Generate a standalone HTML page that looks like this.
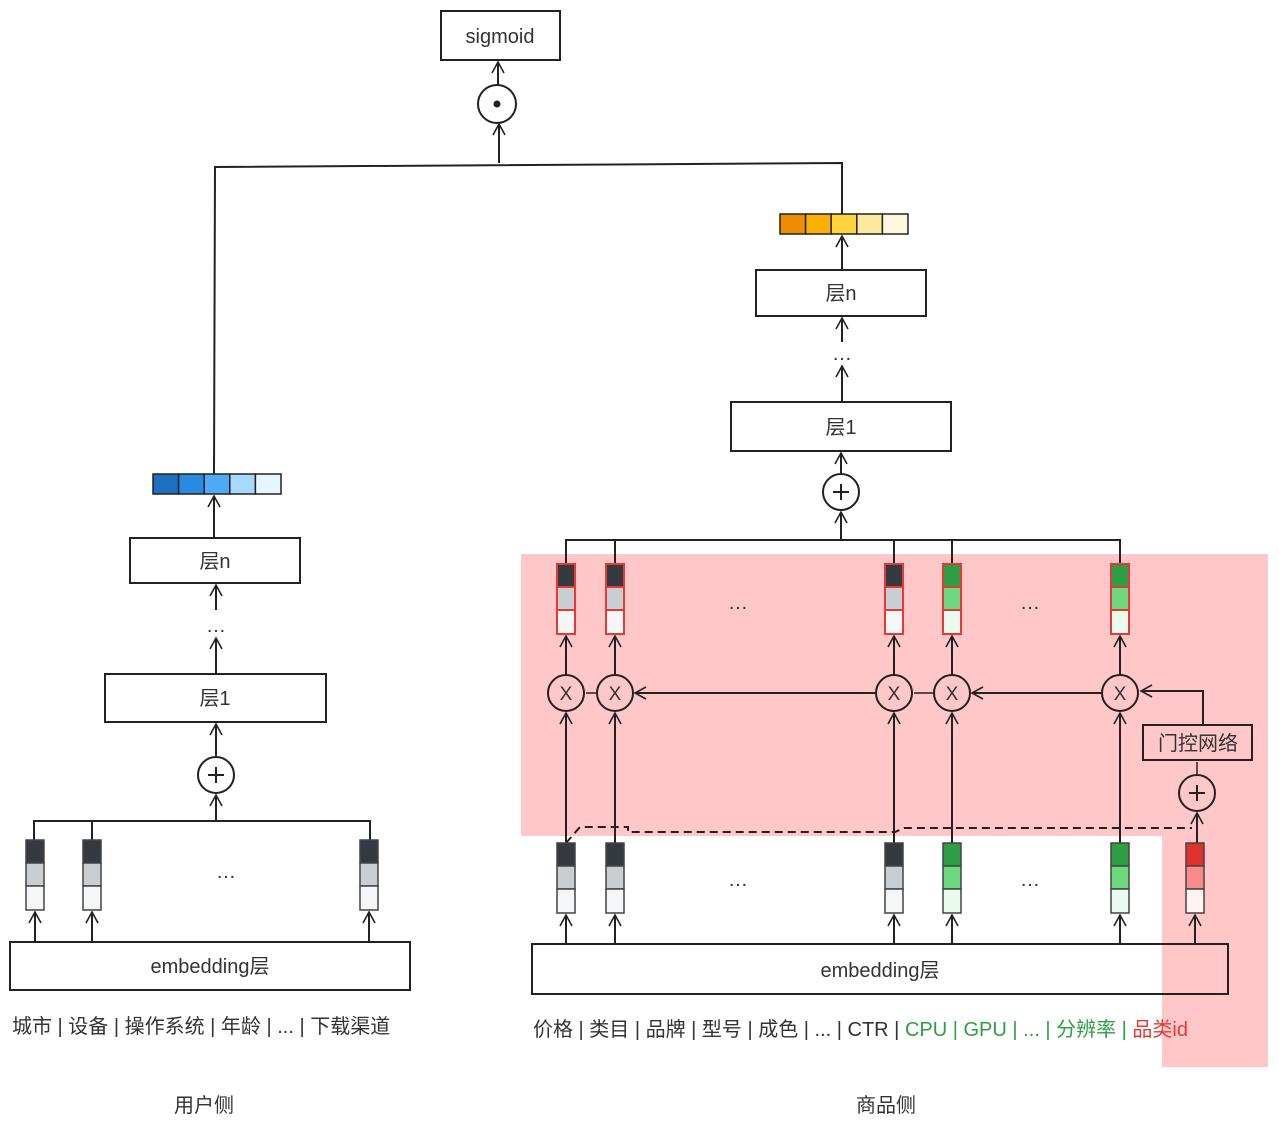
<!DOCTYPE html>
<html><head><meta charset="utf-8"><style>
html,body{margin:0;padding:0;background:#fff;}
svg{display:block;}
text{font-family:"Liberation Sans","Noto Sans CJK SC",sans-serif;fill:#333;}
</style></head><body>
<svg width="1279" height="1127" viewBox="0 0 1279 1127" xmlns="http://www.w3.org/2000/svg">
<defs>
<marker id="a" markerWidth="14" markerHeight="14" refX="12" refY="7" orient="auto" markerUnits="userSpaceOnUse">
<path d="M1,1 L12,7 L1,13" fill="none" stroke="#222" stroke-width="1.6"/>
</marker>
</defs>
<!-- pink regions -->
<rect x="521" y="554" width="747" height="282" fill="#ffc7c8"/>
<rect x="1162" y="836" width="106" height="231" fill="#ffc7c8"/>

<g stroke="#222" stroke-width="2" fill="none">
<!-- top -->
<rect x="441" y="11" width="119" height="49" fill="#fff"/>
<line x1="498" y1="85" x2="498" y2="62" marker-end="url(#a)"/>
<circle cx="497" cy="104" r="19" fill="#fff"/>
<line x1="499" y1="163" x2="499" y2="124" marker-end="url(#a)"/>
<polyline points="214,474 215,167 842,163 842,214"/>

<!-- left tower -->
<line x1="214" y1="537" x2="214" y2="496" marker-end="url(#a)"/>
<rect x="130" y="538" width="170" height="45" fill="#fff"/>
<line x1="216" y1="610" x2="216" y2="585" marker-end="url(#a)"/>
<line x1="216" y1="673" x2="216" y2="638" marker-end="url(#a)"/>
<rect x="105" y="674" width="221" height="48" fill="#fff"/>
<line x1="216" y1="756" x2="216" y2="724" marker-end="url(#a)"/>
<circle cx="216" cy="775" r="18" fill="#fff"/>
<line x1="216" y1="821" x2="216" y2="795" marker-end="url(#a)"/>
<polyline points="34,840 34,821 370,821 370,840"/>
<line x1="92" y1="821" x2="92" y2="840"/>
<rect x="10" y="942" width="400" height="48" fill="#fff"/>
<line x1="35" y1="942" x2="35" y2="912" marker-end="url(#a)"/>
<line x1="92" y1="942" x2="92" y2="912" marker-end="url(#a)"/>
<line x1="369" y1="942" x2="369" y2="912" marker-end="url(#a)"/>

<!-- right tower -->
<line x1="842" y1="269" x2="842" y2="236" marker-end="url(#a)"/>
<rect x="756" y="270" width="170" height="46" fill="#fff"/>
<line x1="842" y1="342" x2="842" y2="318" marker-end="url(#a)"/>
<line x1="842" y1="401" x2="842" y2="366" marker-end="url(#a)"/>
<rect x="731" y="402" width="220" height="49" fill="#fff"/>
<line x1="841" y1="473" x2="841" y2="453" marker-end="url(#a)"/>
<circle cx="841" cy="492" r="18" fill="#fff"/>
<line x1="841" y1="540" x2="841" y2="512" marker-end="url(#a)"/>
<polyline points="566,564 566,540 1120,540 1120,564"/>
<line x1="615" y1="540" x2="615" y2="564"/>
<line x1="894" y1="540" x2="894" y2="564"/>
<line x1="952" y1="540" x2="952" y2="564"/>

<!-- X circles up arrows -->
<line x1="566" y1="675" x2="566" y2="636" marker-end="url(#a)"/>
<line x1="615" y1="675" x2="615" y2="636" marker-end="url(#a)"/>
<line x1="894" y1="675" x2="894" y2="636" marker-end="url(#a)"/>
<line x1="952" y1="675" x2="952" y2="636" marker-end="url(#a)"/>
<line x1="1120" y1="675" x2="1120" y2="636" marker-end="url(#a)"/>
<!-- bottom to X -->
<line x1="566" y1="843" x2="566" y2="713" marker-end="url(#a)"/>
<line x1="615" y1="843" x2="615" y2="713" marker-end="url(#a)"/>
<line x1="894" y1="843" x2="894" y2="713" marker-end="url(#a)"/>
<line x1="952" y1="843" x2="952" y2="713" marker-end="url(#a)"/>
<line x1="1120" y1="843" x2="1120" y2="713" marker-end="url(#a)"/>
<!-- horizontal gate arrows -->
<polyline points="1203,725 1203,691 1141,691" marker-end="url(#a)"/>
<line x1="1102" y1="693" x2="972" y2="693" marker-end="url(#a)"/>
<line x1="934" y1="693" x2="914" y2="693" stroke-width="1.5"/>
<line x1="876" y1="693" x2="635" y2="693" marker-end="url(#a)"/>
<line x1="597" y1="693" x2="586" y2="693" stroke-width="1.5"/>
<circle cx="566" cy="693" r="18" fill="none"/>
<circle cx="615" cy="693" r="18" fill="none"/>
<circle cx="894" cy="693" r="18" fill="none"/>
<circle cx="952" cy="693" r="18" fill="none"/>
<circle cx="1120" cy="693" r="18" fill="none"/>
<rect x="1143" y="725" width="109" height="35" fill="none"/>
<line x1="1197" y1="774" x2="1197" y2="762" stroke-width="1.5"/>
<circle cx="1197" cy="793" r="18" fill="none"/>
<line x1="1197" y1="843" x2="1197" y2="813" marker-end="url(#a)"/>
<!-- dashed -->
<polyline points="566,843 580,827 628,827 628,832 895,832 904,828 1192,828" stroke-dasharray="8,5"/>
<!-- bottom embedding -->
<rect x="532" y="944" width="696" height="50" fill="none"/>
<line x1="566" y1="944" x2="566" y2="915" marker-end="url(#a)"/>
<line x1="615" y1="944" x2="615" y2="915" marker-end="url(#a)"/>
<line x1="894" y1="944" x2="894" y2="915" marker-end="url(#a)"/>
<line x1="952" y1="944" x2="952" y2="915" marker-end="url(#a)"/>
<line x1="1120" y1="944" x2="1120" y2="915" marker-end="url(#a)"/>
<line x1="1195" y1="944" x2="1195" y2="915" marker-end="url(#a)"/>
</g>

<!-- symbols -->
<circle cx="497" cy="104" r="3.5" fill="#222"/>
<g stroke="#222" stroke-width="2">
<line x1="208" y1="775" x2="224" y2="775"/><line x1="216" y1="767" x2="216" y2="783"/>
<line x1="833" y1="492" x2="849" y2="492"/><line x1="841" y1="484" x2="841" y2="500"/>
<line x1="1189" y1="793" x2="1205" y2="793"/><line x1="1197" y1="785" x2="1197" y2="801"/>
</g>
<g font-size="19" text-anchor="middle">
<text x="566" y="700">X</text><text x="615" y="700">X</text><text x="894" y="700">X</text><text x="952" y="700">X</text><text x="1120" y="700">X</text>
</g>

<!-- vectors -->
<g stroke="#222" stroke-width="1.5">
<!-- blue -->
<rect x="153" y="474" width="25.6" height="20" fill="#1e6fc0"/>
<rect x="178.6" y="474" width="25.6" height="20" fill="#2a8ae0"/>
<rect x="204.2" y="474" width="25.6" height="20" fill="#4faaf5"/>
<rect x="229.8" y="474" width="25.6" height="20" fill="#a7d9fc"/>
<rect x="255.4" y="474" width="25.6" height="20" fill="#e6f5ff"/>
<!-- orange -->
<rect x="780" y="214" width="25.6" height="20" fill="#f08c00"/>
<rect x="805.6" y="214" width="25.6" height="20" fill="#fbb000"/>
<rect x="831.2" y="214" width="25.6" height="20" fill="#ffd33d"/>
<rect x="856.8" y="214" width="25.6" height="20" fill="#ffe99a"/>
<rect x="882.4" y="214" width="25.6" height="20" fill="#fff8dc"/>
</g>
<g stroke="#444" stroke-width="1.5">
<!-- left gray -->
<rect x="26" y="840" width="18" height="23" fill="#343a40"/><rect x="26" y="863" width="18" height="23" fill="#c9ced3"/><rect x="26" y="886" width="18" height="24" fill="#f5f6f7"/>
<rect x="83" y="840" width="18" height="23" fill="#343a40"/><rect x="83" y="863" width="18" height="23" fill="#c9ced3"/><rect x="83" y="886" width="18" height="24" fill="#f5f6f7"/>
<rect x="360" y="840" width="18" height="23" fill="#343a40"/><rect x="360" y="863" width="18" height="23" fill="#c9ced3"/><rect x="360" y="886" width="18" height="24" fill="#f5f6f7"/>
<!-- bottom right -->
<rect x="557" y="843" width="18" height="23" fill="#343a40"/><rect x="557" y="866" width="18" height="23" fill="#c9ced3"/><rect x="557" y="889" width="18" height="24" fill="#f5f6f7"/>
<rect x="606" y="843" width="18" height="23" fill="#343a40"/><rect x="606" y="866" width="18" height="23" fill="#c9ced3"/><rect x="606" y="889" width="18" height="24" fill="#f5f6f7"/>
<rect x="885" y="843" width="18" height="23" fill="#343a40"/><rect x="885" y="866" width="18" height="23" fill="#c9ced3"/><rect x="885" y="889" width="18" height="24" fill="#f5f6f7"/>
<rect x="943" y="843" width="18" height="23" fill="#2e9e44"/><rect x="943" y="866" width="18" height="23" fill="#6cd97e"/><rect x="943" y="889" width="18" height="24" fill="#eafaee"/>
<rect x="1111" y="843" width="18" height="23" fill="#2e9e44"/><rect x="1111" y="866" width="18" height="23" fill="#6cd97e"/><rect x="1111" y="889" width="18" height="24" fill="#eafaee"/>
<rect x="1186" y="843" width="18" height="23" fill="#e03030"/><rect x="1186" y="866" width="18" height="23" fill="#f88a8a"/><rect x="1186" y="889" width="18" height="24" fill="#fff4f4"/>
</g>
<g stroke="#e53935" stroke-width="2">
<rect x="557" y="564" width="18" height="23" fill="#343a40"/><rect x="557" y="587" width="18" height="23" fill="#c9ced3"/><rect x="557" y="610" width="18" height="24" fill="#f5f6f7"/>
<rect x="606" y="564" width="18" height="23" fill="#343a40"/><rect x="606" y="587" width="18" height="23" fill="#c9ced3"/><rect x="606" y="610" width="18" height="24" fill="#f5f6f7"/>
<rect x="885" y="564" width="18" height="23" fill="#343a40"/><rect x="885" y="587" width="18" height="23" fill="#c9ced3"/><rect x="885" y="610" width="18" height="24" fill="#f5f6f7"/>
<rect x="943" y="564" width="18" height="23" fill="#2e9e44"/><rect x="943" y="587" width="18" height="23" fill="#6cd97e"/><rect x="943" y="610" width="18" height="24" fill="#eafaee"/>
<rect x="1111" y="564" width="18" height="23" fill="#2e9e44"/><rect x="1111" y="587" width="18" height="23" fill="#6cd97e"/><rect x="1111" y="610" width="18" height="24" fill="#eafaee"/>
</g>

<!-- text -->
<g font-size="20" text-anchor="middle">
<text x="500" y="43">sigmoid</text>
<text x="841" y="300">层n</text>
<text x="841" y="434">层1</text>
<text x="215" y="568">层n</text>
<text x="215" y="705">层1</text>
<text x="210" y="973">embedding层</text>
<text x="880" y="977">embedding层</text>
<text x="1198" y="750">门控网络</text>
<text x="842" y="360">…</text>
<text x="216" y="632">…</text>
<text x="226" y="878">…</text>
<text x="738" y="609">…</text>
<text x="1030" y="609">…</text>
<text x="738" y="886">…</text>
<text x="1030" y="886">…</text>
<text x="204" y="1112">用户侧</text>
<text x="886" y="1112">商品侧</text>
</g>
<text x="12" y="1033" font-size="20">城市 | 设备 | 操作系统 | 年龄 | ... | 下载渠道</text>
<text x="533" y="1036" font-size="20">价格 | 类目 | 品牌 | 型号 | 成色 | ... | CTR |<tspan fill="#2e9e44" style="fill:#2e9e44"> CPU | GPU | ... | 分辨率 | </tspan><tspan style="fill:#e53935">品类id</tspan></text>
</svg>
</body></html>
